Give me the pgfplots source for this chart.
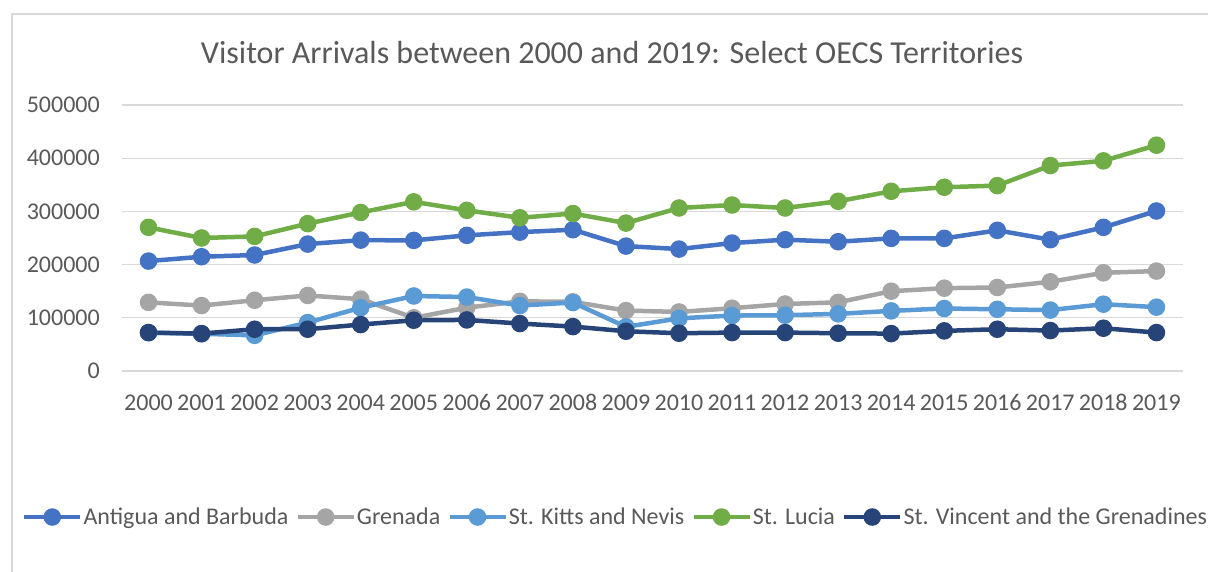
\documentclass[border=0pt]{standalone}
\usepackage{pgfplots}
\pgfplotsset{compat=1.18}
\usepackage{fontspec}
\setmainfont{Carlito}
\definecolor{cA}{HTML}{4472C4}
\definecolor{cG}{HTML}{A5A5A5}
\definecolor{cK}{HTML}{5B9BD5}
\definecolor{cL}{HTML}{70AD47}
\definecolor{cV}{HTML}{264478}
\definecolor{txt}{HTML}{595959}
\definecolor{gridc}{HTML}{D9D9D9}
\begin{document}
\begin{tikzpicture}
\useasboundingbox (0pt,0pt) rectangle (1208pt,571pt);
\draw[gridc, line width=1.2pt] (12pt,-10pt) rectangle (1220pt,557pt);
\node[txt, font=\fontsize{32}{38}\selectfont] at (612pt,518pt) {Visitor Arrivals between 2000 and 2019: Select OECS Territories};
\begin{axis}[
  at={(122pt,200pt)}, anchor=south west,
  scale only axis, width=1061pt, height=266pt,
  xmin=1999.5, xmax=2019.5, ymin=0, ymax=500000,
  xtick={2000,...,2019}, ytick={0,100000,200000,300000,400000,500000},
  scaled y ticks=false,
  xticklabel={\pgfmathprintnumber[fixed,precision=0,1000 sep={},assume math mode=true]{\tick}},
  yticklabel={\pgfmathprintnumber[fixed,precision=0,1000 sep={},assume math mode=true]{\tick}},
  axis line style={draw=none}, major tick length=0pt,
  ymajorgrids, grid style={gridc, line width=1.3pt},
  tick label style={txt, font=\fontsize{24}{28}\selectfont},
  xticklabel style={inner sep=0pt, anchor=north, yshift=-24pt, text height=15.5pt, text depth=0pt},
  yticklabel style={inner sep=0pt, anchor=east, xshift=-22pt},
  every axis plot/.append style={line width=4.5pt, mark=*, mark size=6.5pt, mark options={solid}},
  legend columns=5,
  legend style={draw=none, fill=none, at={(0.4647,-0.549)}, anchor=center,
    font=\fontsize{24}{28}\selectfont, text=txt, inner sep=0pt,
    nodes={inner xsep=1pt},
    /tikz/every even column/.append style={column sep=6pt}},
  legend image code/.code={\draw[mark repeat=2, mark phase=2, #1] plot coordinates {(0pt,0pt) (28pt,0pt) (56pt,0pt)};},
  legend cell align=left,
]
\addplot[color=cA] coordinates {(2000,206600)(2001,214800)(2002,218000)(2003,238600)(2004,246000)(2005,245500)(2006,255000)(2007,261000)(2008,265600)(2009,234800)(2010,229200)(2011,240500)(2012,246800)(2013,243000)(2014,249300)(2015,249300)(2016,264400)(2017,246800)(2018,270000)(2019,300800)};
\addlegendentry{Antigua and Barbuda}
\addplot[color=cG] coordinates {(2000,129000)(2001,123000)(2002,133000)(2003,142000)(2004,135000)(2005,100000)(2006,119000)(2007,131000)(2008,130000)(2009,113600)(2010,111000)(2011,118000)(2012,126000)(2013,129000)(2014,150000)(2015,155700)(2016,157000)(2017,167700)(2018,184600)(2019,187800)};
\addlegendentry{Grenada}
\addplot[color=cK] coordinates {(2000,72000)(2001,70000)(2002,67000)(2003,91000)(2004,119000)(2005,141000)(2006,139000)(2007,123000)(2008,128700)(2009,83000)(2010,99000)(2011,104200)(2012,104900)(2013,107400)(2014,113000)(2015,117500)(2016,116000)(2017,114500)(2018,125600)(2019,120000)};
\addlegendentry{St. Kitts and Nevis}
\addplot[color=cL] coordinates {(2000,270000)(2001,250000)(2002,253000)(2003,277000)(2004,298000)(2005,318000)(2006,302000)(2007,288000)(2008,296000)(2009,278000)(2010,306400)(2011,312000)(2012,306400)(2013,319000)(2014,337800)(2015,345400)(2016,348500)(2017,386200)(2018,395000)(2019,424500)};
\addlegendentry{St. Lucia}
\addplot[color=cV] coordinates {(2000,72200)(2001,70300)(2002,78500)(2003,78500)(2004,87300)(2005,95400)(2006,96000)(2007,89200)(2008,83500)(2009,74700)(2010,71000)(2011,72200)(2012,72200)(2013,71000)(2014,70300)(2015,75400)(2016,78500)(2017,76000)(2018,80400)(2019,72200)};
\addlegendentry{St. Vincent and the Grenadines}
\end{axis}
\end{tikzpicture}
\end{document}
